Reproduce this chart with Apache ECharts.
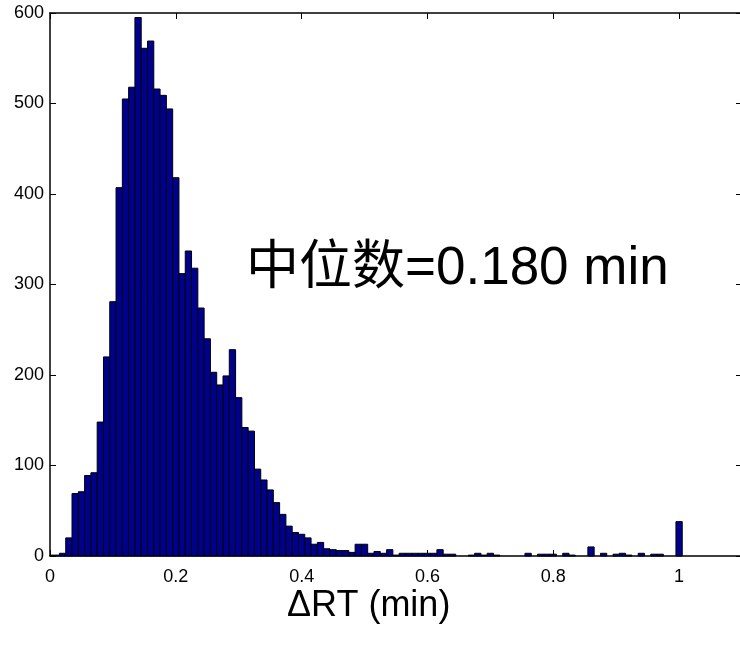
<!DOCTYPE html>
<html>
<head>
<meta charset="utf-8">
<script src="https://cdn.jsdelivr.net/npm/echarts@6/dist/echarts.min.js"></script>
<style>
  html, body { margin: 0; padding: 0; background: #fff; }
  #main { width: 740px; height: 650px; }
</style>
</head>
<body>
<div id="main"></div>
<script>
// histogram bins are centred on multiples of binWidth
const binWidth = 0.01;
const counts = [
  1, 1, 3, 20, 69, 71, 89, 92, 148, 220,
  281, 407, 505, 518, 595, 561, 569, 516, 509, 494,
  418, 312, 337, 318, 274, 240, 203, 189, 199, 228,
  175, 142, 138, 96, 84, 73, 59, 46, 33, 26,
  24, 20, 13, 15, 8, 7, 6, 6, 4, 13,
  13, 3, 5, 3, 7, 1, 3, 3, 3, 3,
  3, 3, 7, 2, 2, 0, 0, 1, 3, 1,
  3, 1, 0, 0, 0, 0, 3, 0, 2, 2,
  2, 0, 3, 1, 0, 0, 10, 0, 3, 0,
  2, 3, 1, 0, 3, 0, 2, 2, 0, 0,
  38
];
const xRange = [0, 1.1];
const yRange = [0, 600];
const xStep = 0.2;
const yStep = 100;
const xTitle = '\u0394RT (min)';
const note = '中位数=0.180 min';

const chartDom = document.getElementById('main');
const myChart = echarts.init(chartDom);
let option;

const binData = counts.map((c, i) => [+(i * binWidth).toFixed(2), c]);

const axisBase = {
  type: 'value',
  axisLine: { show: true, onZero: false, lineStyle: { color: '#000', width: 1.5 } },
  axisTick: { show: true, inside: true, length: 6, lineStyle: { color: '#000', width: 1 } },
  splitLine: { show: false }
};

option = {
  animation: false,
  grid: { left: 50, top: 13, width: 692, height: 543, outerBoundsMode: 'none', containLabel: false },
  xAxis: [
    Object.assign({}, axisBase, {
      position: 'bottom',
      min: xRange[0], max: xRange[1], interval: xStep,
      axisLabel: {
        margin: 12, color: '#000', fontSize: 18, fontFamily: 'Liberation Sans',
        formatter: v => (v > 1.05 ? '' : String(+v.toFixed(1)))
      }
    }),
    Object.assign({}, axisBase, {
      position: 'top',
      min: xRange[0], max: xRange[1], interval: xStep,
      axisLabel: { show: false }
    })
  ],
  yAxis: [
    Object.assign({}, axisBase, {
      position: 'left',
      min: yRange[0], max: yRange[1], interval: yStep,
      axisLabel: { margin: 6, color: '#000', fontSize: 18, fontFamily: 'Liberation Sans' }
    }),
    Object.assign({}, axisBase, {
      position: 'right',
      min: yRange[0], max: yRange[1], interval: yStep,
      axisLabel: { show: false }
    })
  ],
  series: [
    {
      type: 'custom',
      xAxisIndex: 0,
      yAxisIndex: 0,
      data: binData,
      renderItem: function (params, api) {
        const x = api.value(0);
        const y = api.value(1);
        if (!y) return null;
        const p0 = api.coord([x - binWidth / 2, y]);
        const p1 = api.coord([x + binWidth / 2, 0]);
        const cs = params.coordSys;
        const shape = echarts.graphic.clipRectByRect(
          { x: p0[0], y: p0[1], width: p1[0] - p0[0], height: p1[1] - p0[1] },
          { x: cs.x, y: cs.y, width: cs.width, height: cs.height }
        );
        if (!shape) return null;
        return {
          type: 'rect',
          shape: shape,
          style: { fill: '#00008F', stroke: '#000', lineWidth: 1 }
        };
      }
    }
  ],
  graphic: [
    {
      type: 'text',
      left: 246,
      top: 243,
      style: {
        text: note,
        fill: '#000',
        font: '53px "Liberation Sans", "Noto Sans CJK SC", sans-serif'
      }
    },
    {
      type: 'text',
      left: 287,
      top: 588,
      style: {
        text: xTitle,
        fill: '#000',
        font: '36px "Liberation Sans", "DejaVu Sans", sans-serif'
      }
    }
  ]
};

option && myChart.setOption(option);
</script>
</body>
</html>
